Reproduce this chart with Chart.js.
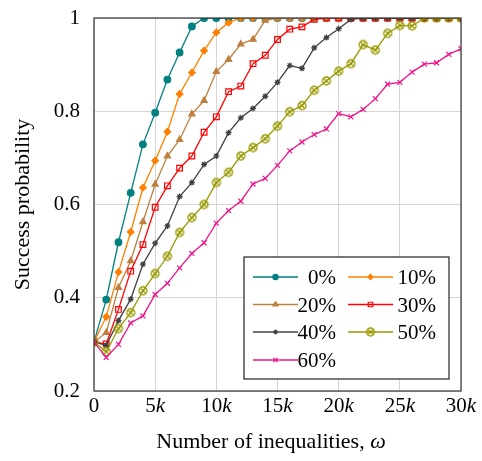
<!DOCTYPE html>
<html>
<head>
<meta charset="utf-8">
<script src="https://cdn.jsdelivr.net/npm/chart.js@4.4.1/dist/chart.umd.min.js"></script>
<style>
  html, body { margin: 0; padding: 0; background: #fff; }
  #wrap { width: 482px; height: 461px; }
</style>
</head>
<body>
<div id="wrap"><canvas id="chart" width="482" height="461"></canvas></div>
<script>
// Dati
const xs = [0, 1000, 2000, 3000, 4000, 5000, 6000, 7000, 8000, 9000, 10000,
  11000, 12000, 13000, 14000, 15000, 16000, 17000, 18000, 19000, 20000,
  21000, 22000, 23000, 24000, 25000, 26000, 27000, 28000, 29000, 30000];

const labels = ["0%", "10%", "20%", "30%", "40%", "50%", "60%"];

const p0 = [0.305, 0.396, 0.519, 0.625, 0.729, 0.797, 0.868, 0.926, 0.982, 1, 1,
  1, 1, 1, 1, 1, 1, 1, 1, 1, 1, 1, 1, 1, 1, 1, 1, 1, 1, 1, 1];
const p10 = [0.305, 0.359, 0.455, 0.541, 0.636, 0.694, 0.756, 0.837, 0.883, 0.930, 0.969,
  0.990, 1, 1, 1, 1, 1, 1, 1, 1, 1, 1, 1, 1, 1, 1, 1, 1, 1, 1, 1];
const p20 = [0.305, 0.325, 0.422, 0.479, 0.563, 0.643, 0.704, 0.739, 0.794, 0.823, 0.885,
  0.911, 0.944, 0.954, 0.995, 1, 1, 1, 1, 1, 1, 1, 1, 1, 1, 1, 1, 1, 1, 1, 1];
const p30 = [0.305, 0.301, 0.375, 0.457, 0.514, 0.594, 0.640, 0.678, 0.704, 0.755, 0.788,
  0.842, 0.854, 0.902, 0.920, 0.954, 0.976, 0.981, 0.997, 1, 1, 1, 1, 1, 1, 1, 1, 1, 1, 1, 1];
const p40 = [0.305, 0.298, 0.351, 0.397, 0.472, 0.517, 0.554, 0.617, 0.647, 0.686, 0.704,
  0.754, 0.786, 0.806, 0.832, 0.862, 0.898, 0.892, 0.936, 0.958, 0.977, 0.997, 1, 1, 1, 1, 1, 1, 1, 1, 1];
const p50 = [0.305, 0.284, 0.334, 0.368, 0.415, 0.452, 0.489, 0.540, 0.572, 0.600, 0.647,
  0.669, 0.704, 0.722, 0.741, 0.768, 0.799, 0.812, 0.845, 0.865, 0.886, 0.902, 0.943, 0.931, 0.967, 0.984, 0.983, 1, 1, 1, 1];
const p60 = [0.305, 0.272, 0.300, 0.346, 0.361, 0.407, 0.431, 0.464, 0.495, 0.518, 0.560,
  0.587, 0.607, 0.644, 0.656, 0.684, 0.715, 0.734, 0.750, 0.762, 0.795, 0.788, 0.804, 0.827, 0.858, 0.862, 0.884, 0.901, 0.904, 0.922, 0.934];

const xTicks = [0, 5000, 10000, 15000, 20000, 25000, 30000];
const yTicks = [0.2, 0.4, 0.6, 0.8, 1];

const FONT = "'Liberation Serif', 'DejaVu Serif', serif";
const OLIVE = "#999900";

// Marker "cerchio con croce" per la serie 50%
function makeOtimes(color) {
  const c = document.createElement("canvas");
  c.width = 12; c.height = 12;
  const g = c.getContext("2d");
  g.strokeStyle = color;
  g.lineWidth = 1.3;
  g.beginPath();
  g.arc(6, 6, 4, 0, Math.PI * 2);
  g.stroke();
  g.beginPath();
  g.moveTo(3.2, 3.2); g.lineTo(8.8, 8.8);
  g.moveTo(8.8, 3.2); g.lineTo(3.2, 8.8);
  g.stroke();
  return c;
}
const otimes = makeOtimes(OLIVE);

const series = [p0, p10, p20, p30, p40, p50, p60];
const colors = ["#008080", "#ff8000", "#bf8040", "#ff0000", "#404040", OLIVE, "#f0148c"];
const styles = ["circle", "rectRot", "triangle", "rect", "star", otimes, "crossRot"];
const radii = [3.3, 3.3, 3.6, 4, 3, 4, 3.5];
const fills = [true, true, true, false, true, false, true];

const datasets = series.map((vals, i) => ({
  label: labels[i],
  data: vals.map((v, j) => ({ x: xs[j], y: v })),
  borderColor: colors[i],
  backgroundColor: colors[i],
  pointBackgroundColor: fills[i] ? colors[i] : "rgba(0,0,0,0)",
  pointBorderColor: colors[i],
  pointStyle: styles[i],
  pointRadius: radii[i],
  pointBorderWidth: 1.2,
  borderWidth: 1.3,
  tension: 0,
  order: 6 - i,
}));

// Testi, cornice e legenda
const decorPlugin = {
  id: "decor",
  afterDraw(chart) {
    const ctx = chart.ctx;
    const a = chart.chartArea;
    const xs_ = chart.scales.x;

    // cornice
    ctx.save();
    ctx.strokeStyle = "#333";
    ctx.lineWidth = 1.2;
    ctx.strokeRect(a.left, a.top, a.right - a.left, a.bottom - a.top);

    // etichette asse x con "k" in corsivo
    ctx.fillStyle = "#000";
    ctx.textBaseline = "alphabetic";
    xTicks.forEach((v) => {
      const px = xs_.getPixelForValue(v);
      const num = String(v / 1000);
      ctx.font = "21px " + FONT;
      const w1 = ctx.measureText(num).width;
      let w2 = 0;
      if (v !== 0) {
        ctx.font = "italic 21px " + FONT;
        w2 = ctx.measureText("k").width;
      }
      const x0 = px - (w1 + w2) / 2;
      ctx.font = "21px " + FONT;
      ctx.textAlign = "left";
      ctx.fillText(num, x0, 412);
      if (v !== 0) {
        ctx.font = "italic 21px " + FONT;
        ctx.fillText("k", x0 + w1, 412);
      }
    });

    // titolo asse x
    const t1 = "Number of inequalities, ";
    ctx.font = "22px " + FONT;
    const tw1 = ctx.measureText(t1).width;
    ctx.font = "italic 22px " + FONT;
    const tw2 = ctx.measureText("\u03c9").width;
    const tx = 271 - (tw1 + tw2) / 2;
    ctx.font = "22px " + FONT;
    ctx.fillText(t1, tx, 448);
    ctx.font = "italic 22px " + FONT;
    ctx.fillText("\u03c9", tx + tw1, 448);

    // titolo asse y
    ctx.save();
    ctx.translate(29, (a.top + a.bottom) / 2);
    ctx.rotate(-Math.PI / 2);
    ctx.font = "22px " + FONT;
    ctx.textAlign = "center";
    ctx.fillText("Success probability", 0, 0);
    ctx.restore();

    // legenda
    ctx.fillStyle = "#fff";
    ctx.fillRect(244, 257, 205, 122);
    ctx.strokeStyle = "#222";
    ctx.lineWidth = 1.2;
    ctx.strokeRect(244, 257, 205, 122);
    const rows = [277, 304.5, 332, 360];
    chart.data.datasets.forEach((ds, i) => {
      const col = i % 2, row = Math.floor(i / 2);
      const y = rows[row];
      const lx0 = col === 0 ? 253 : 348;
      const lx1 = lx0 + 45;
      ctx.strokeStyle = ds.borderColor;
      ctx.lineWidth = 1.3;
      ctx.beginPath();
      ctx.moveTo(lx0, y); ctx.lineTo(lx1, y);
      ctx.stroke();
      ctx.fillStyle = ds.pointBackgroundColor;
      ctx.strokeStyle = ds.pointBorderColor;
      ctx.lineWidth = 1.2;
      Chart.helpers.drawPoint(ctx, {
        pointStyle: ds.pointStyle,
        radius: ds.pointRadius * 0.8,
        rotation: 0,
        borderWidth: 1.2,
      }, (lx0 + lx1) / 2, y);
      ctx.fillStyle = "#000";
      ctx.font = "21px " + FONT;
      ctx.textAlign = "right";
      ctx.fillText(ds.label, col === 0 ? 336 : 436, y + 7);
    });
    ctx.restore();
  },
};

const ctx = document.getElementById("chart").getContext("2d");
new Chart(ctx, {
  type: "line",
  data: { datasets },
  options: {
    responsive: false,
    animation: false,
    layout: { padding: { top: 18, right: 21, left: 0, bottom: 0 } },
    plugins: { legend: { display: false }, tooltip: { enabled: false } },
    scales: {
      x: {
        type: "linear",
        min: 0,
        max: 30000,
        afterBuildTicks: (s) => { s.ticks = xTicks.map((v) => ({ value: v })); },
        afterFit: (s) => { s.height = 70; s.paddingLeft = 0; s.paddingRight = 0; },
        ticks: { display: false },
        grid: { color: "#d6d6d6", lineWidth: 1, drawTicks: false },
        border: { display: false },
      },
      y: {
        type: "linear",
        min: 0.2,
        max: 1,
        afterBuildTicks: (s) => { s.ticks = yTicks.map((v) => ({ value: v })); },
        afterFit: (s) => { s.width = 94; s.paddingTop = 0; s.paddingBottom = 0; },
        ticks: {
          padding: 14,
          color: "#000",
          font: { family: FONT, size: 21 },
          callback: (v) => (v === 1 ? "1" : v.toFixed(1)),
        },
        grid: { color: "#d6d6d6", lineWidth: 1, drawTicks: false },
        border: { display: false },
      },
    },
  },
  plugins: [decorPlugin],
});
</script>
</body>
</html>
